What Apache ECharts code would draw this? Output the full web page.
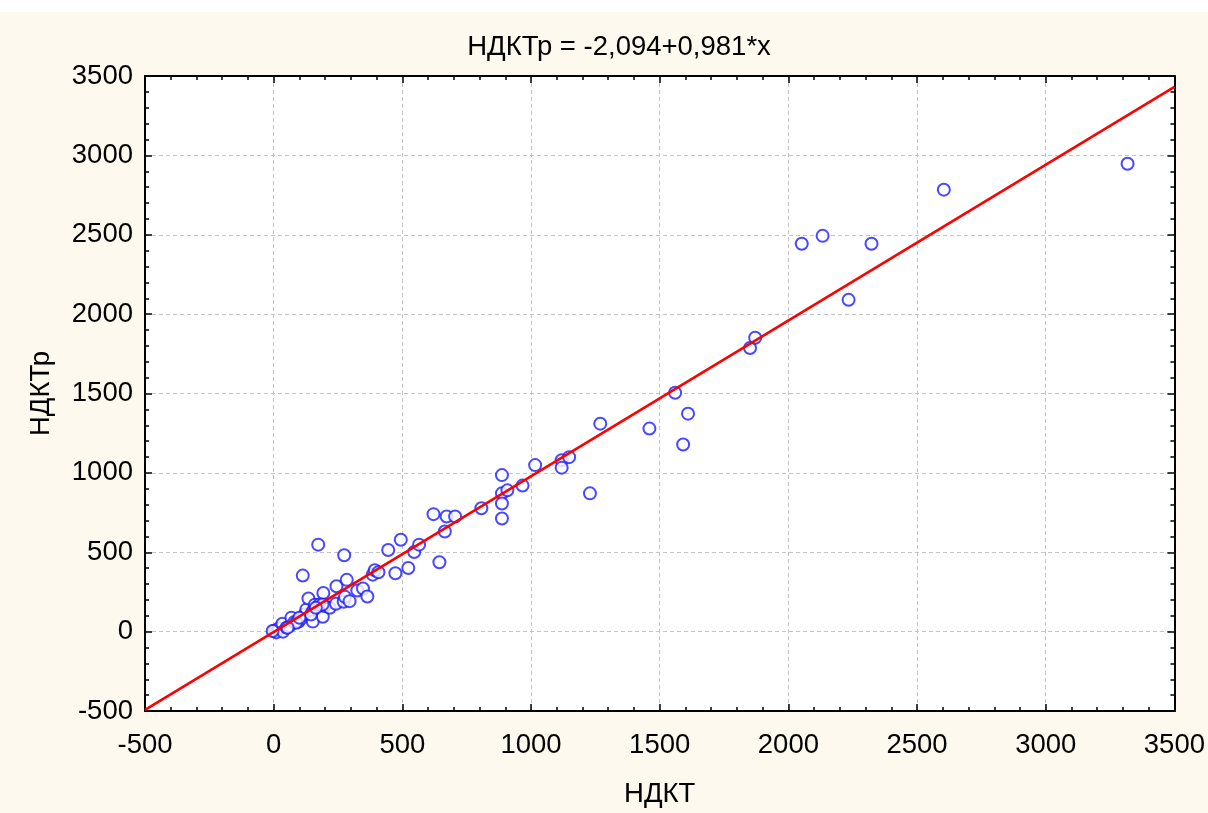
<!DOCTYPE html>
<html>
<head>
<meta charset="utf-8">
<script src="https://cdn.jsdelivr.net/npm/echarts@6/dist/echarts.min.js"></script>
<style>
html,body{margin:0;padding:0;background:#ffffff;}
#c{width:1208px;height:813px;}
</style>
</head>
<body>
<div id="c"></div>
<script>
// Observed НДКТ (x) values
var ndkt = [2,10,20,34,36,50,62,69,80,97,105,120,127,135,152,152,160,178,193,191,197,218,242,244,272,277,284,295,325,347,364,385,393,407,113,173,274,445,473,494,523,546,565,621,644,665,672,705,807,887,887,887,887,908,967,1016,1119,1119,1148,1229,1269,1460,1560,1591,1610,1851,1871,2052,2133,2323,2234,2604,3318,87,145,54,190,164,100,-4];
// Predicted НДКТр (y) values
var ndktP = [5,-5,20,50,0,25,36,88,60,63,80,108,140,209,130,63,170,171,243,94,161,150,176,286,188,219,326,192,259,272,221,359,387,374,353,548,481,514,368,579,401,502,548,740,437,631,725,725,777,986,871,807,713,890,920,1049,1080,1033,1099,871,1310,1279,1505,1179,1373,1787,1851,2443,2493,2443,2090,2784,2947,56,108,25,171,150,88,4];
// Regression line end points
var lineX = [-500, 3500];
var lineY = [-493, 3432];
var titleText = 'НДКТр = -2,094+0,981*x';
var xName = 'НДКТ';
var yName = 'НДКТр';

var pts = ndkt.map(function(v,i){return [v, ndktP[i]];});
var linePts = lineX.map(function(v,i){return [v, lineY[i]];});

var font = 'Liberation Sans, Arial, sans-serif';
var fs = 27.5;
var grey = '#c4c4c4';
function axisBase(pos, show){
  return {
    type:'value', position:pos, min:-500, max:3500, interval:500,
    axisLine:{show:true, onZero:false, lineStyle:{color:'#000', width:2}},
    axisTick:{show:true, inside:true, length:7, lineStyle:{color:'#000', width:1.5}},
    minorTick:{show:true, splitNumber:5, length:4, lineStyle:{color:'#000', width:1.5}},
    splitLine:{show:show, lineStyle:{color:grey, type:[4,3], width:1}},
    axisLabel:{show:show, color:'#000', fontSize:fs, fontFamily:font, formatter:function(v){return String(v);}}
  };
}
var xa = axisBase('bottom', true);
xa.axisLabel.margin = 20;
xa.name = xName; xa.nameLocation = 'middle'; xa.nameGap = 69;
xa.nameTextStyle = {color:'#000', fontSize:fs, fontFamily:font};
var xb = axisBase('top', false);
var ya = axisBase('left', true);
ya.axisLabel.margin = 12;
ya.name = yName; ya.nameLocation = 'middle'; ya.nameGap = 90;
ya.nameTextStyle = {color:'#000', fontSize:fs, fontFamily:font};
var yb = axisBase('right', false);

var chart = echarts.init(document.getElementById('c'), null, {renderer:'canvas'});
chart.setOption({
  animation:false,
  backgroundColor:'transparent',
  graphic:[{type:'rect', z:-10, silent:true, shape:{x:0, y:12, width:1208, height:801}, style:{fill:'#fdf9ee'}}],
  title:{text:titleText, left:614, top:28, textAlign:'center', textStyle:{color:'#000', fontSize:fs, fontWeight:'normal', fontFamily:font}},
  grid:{left:145, right:32, top:76, bottom:99, show:true, backgroundColor:'#ffffff', borderWidth:0},
  xAxis:[xa, xb],
  yAxis:[ya, yb],
  series:[
    {type:'scatter', xAxisIndex:0, yAxisIndex:0, data:pts, symbol:'emptyCircle', symbolSize:12,
     itemStyle:{color:'#1a1aff', borderWidth:1}, z:3},
    {type:'line', xAxisIndex:0, yAxisIndex:0, data:linePts, showSymbol:false, symbol:'none',
     lineStyle:{color:'#ff0000', width:2.6}, z:4}
  ]
});
</script>
</body>
</html>
